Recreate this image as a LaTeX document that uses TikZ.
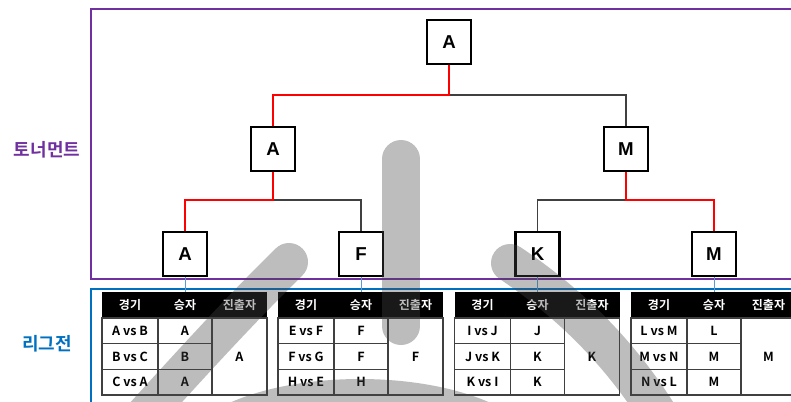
\documentclass[tikz,border=0pt]{standalone}
\usepackage{fontspec}
\newfontfamily\kr{Noto Sans CJK KR}[BoldFont={Noto Sans CJK KR Bold}]
\newfontfamily\lat{Liberation Sans}
\definecolor{tpurple}{HTML}{7030A0}
\definecolor{lblue}{HTML}{0070C0}
\definecolor{winred}{HTML}{FF0000}
\definecolor{linegray}{HTML}{404040}
\definecolor{linkblue}{HTML}{5B9BD5}
\tikzset{
  tbox/.style={draw=black, line width=1.9pt, fill=white, minimum size=33pt, inner sep=0pt, font=\lat\bfseries\fontsize{14}{14}\selectfont},
  win/.style={draw=winred, line width=2.2pt},
  lose/.style={draw=linegray, line width=0.8pt},
  link/.style={draw=linkblue, line width=0.6pt},
  frameline/.style={line width=2.1pt},
  hd/.style={fill=black, text=white, inner sep=0pt, minimum height=19.5pt, font=\kr\bfseries\fontsize{9}{9}\selectfont},
  bd/.style={draw=linegray, line width=0.9pt, fill=white, inner sep=0pt, minimum height=19.25pt, font=\kr\bfseries\fontsize{9.4}{9.4}\selectfont},
  sidelabel/.style={font=\kr\bfseries\fontsize{13.5}{13.5}\selectfont},
  wm/.style={draw=black!72, draw opacity=0.36, line width=28.5pt, line cap=round},
}
\newcommand\lgtable[9]{%
  \begin{scope}[shift={(#2,0)}]
    \node[hd, minimum width=42pt] (#1h1) at (28,305) {경기};
    \node[hd, minimum width=40.5pt] (#1h2) at (83,305) {승자};
    \node[hd, minimum width=41.25pt] (#1h3) at (137.5,305) {진출자};
    \node[bd, minimum width=42pt] (#1g1) at (28,330.8) {#3};
    \node[bd, minimum width=42pt] (#1g2) at (28,356.5) {#4};
    \node[bd, minimum width=42pt] (#1g3) at (28,382.2) {#5};
    \node[bd, minimum width=40.5pt] (#1w1) at (83,330.8) {#6};
    \node[bd, minimum width=40.5pt] (#1w2) at (83,356.5) {#7};
    \node[bd, minimum width=40.5pt] (#1w3) at (83,382.2) {#8};
    \node[bd, minimum width=41.25pt, minimum height=57.75pt] (#1a) at (137.5,356.5) {#9};
  \end{scope}}
\begin{document}
\begin{tikzpicture}[x=0.75pt,y=-0.75pt]
\useasboundingbox (0,0) rectangle (791,401);
\begin{scope}
\clip (0,0) rectangle (791,401);
% frames
\draw[frameline, draw=tpurple] (91,9) rectangle (820,279);
\draw[frameline, draw=lblue] (91,289) rectangle (820,430);
\node[sidelabel, text=tpurple] (lab1) at (47,150) {토너먼트};
\node[sidelabel, text=lblue] (lab2) at (47,344) {리그전};
% tables
\lgtable{T1}{102}{A vs B}{B vs C}{C vs A}{A}{B}{A}{A}
\lgtable{T2}{278}{E vs F}{F vs G}{H vs E}{F}{F}{H}{F}
\lgtable{T3}{454.5}{I vs J}{J vs K}{K vs I}{J}{K}{K}{K}
\lgtable{T4}{631}{L vs M}{M vs N}{N vs L}{L}{M}{M}{M}
% tree nodes
\node[tbox] (t1) at (449,42) {A};
\node[tbox] (t2a) at (273,149) {A};
\node[tbox] (t2m) at (626,149) {M};
\node[tbox] (t3a) at (185,254) {A};
\node[tbox] (t3f) at (361,254) {F};
\node[tbox] (t3k) at (537.5,254) {K};
\node[tbox] (t3m) at (714,254) {M};
\coordinate (ya) at (0,95);
\coordinate (yb) at (0,200);
% connectors
\draw[lose] (t1.south |- ya) -| (t2m.north);
\draw[win] (t1.south) -- (t1.south |- ya) -| (t2a.north);
\draw[lose] (t2a.south |- yb) -| (t3f.north);
\draw[win] (t2a.south) -- (t2a.south |- yb) -| (t3a.north);
\draw[lose] (t2m.south |- yb) -| (t3k.north);
\draw[win] (t2m.south) -- (t2m.south |- yb) -| (t3m.north);
\draw[link] (t3a.south) -- (T1h2.north);
\draw[link] (t3f.south) -- (T2h2.north);
\draw[link] (t3k.south) -- (T3h2.north);
\draw[link] (t3m.south) -- (T4h2.north);
% watermark
\draw[wm] (401,159) -- (401,326);
\draw[wm] (140,420) .. controls (190,365) and (240,310) .. (289,262);
\draw[wm] (510,263) .. controls (565,300) and (620,350) .. (665,425);
\draw[wm] (222,428) .. controls (290,388) and (430,388) .. (498,428);
\end{scope}
\end{tikzpicture}
\end{document}
